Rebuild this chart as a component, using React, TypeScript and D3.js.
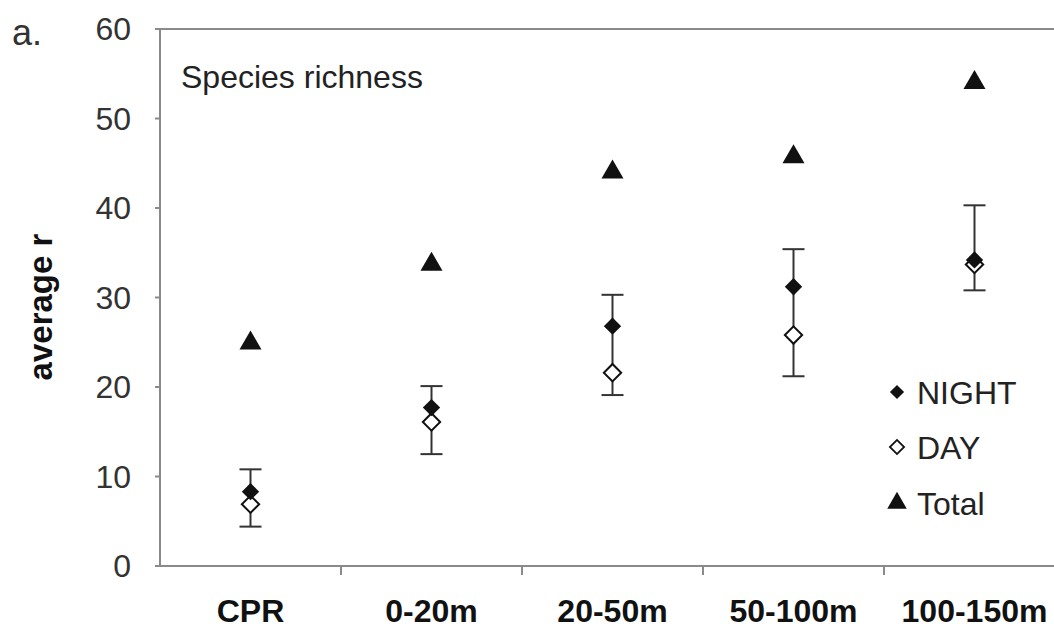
import React from "react";
import * as d3 from "d3";

const categories = ["CPR", "0-20m", "20-50m", "50-100m", "100-150m"];
const nightValues = [8.3, 17.7, 26.8, 31.2, 34.2];
const dayValues = [6.9, 16.1, 21.6, 25.8, 33.7];
const totalValues = [24.9, 33.7, 44.0, 45.7, 54.0];
const errLow = [4.4, 12.5, 19.1, 21.2, 30.8];
const errHigh = [10.8, 20.1, 30.3, 35.4, 40.3];
const yTicks = [0, 10, 20, 30, 40, 50, 60];

const W = 1054;
const H = 632;
const left = 160;
const top = 29;
const bottom = 566;
const right = 1065;
const font = "'Liberation Sans', Arial, sans-serif";

export default function App() {
  const x = d3.scaleBand<string>().domain(categories).range([left, right]);
  const y = d3.scaleLinear().domain([0, 60]).range([bottom, top]);
  const cx = (c: string) => (x(c) as number) + x.bandwidth() / 2;

  const diamond = d3.symbol().type(d3.symbolSquare).size(150)();
  const diamondLeg = d3.symbol().type(d3.symbolSquare).size(100)();
  const tri = d3.symbol().type(d3.symbolTriangle).size(210)();
  const triLeg = d3.symbol().type(d3.symbolTriangle).size(165)();
  const axisColor = "#8a8a8a";

  return (
    <svg width={W} height={H} style={{ position: "absolute", left: 0, top: 0, background: "#fff" }}>
      <rect x={0} y={0} width={W} height={H} fill="#fff" />
      {/* frame lines */}
      <line x1={left} x2={W} y1={top} y2={top} stroke={axisColor} strokeWidth={2} />
      <line x1={left} x2={left} y1={top} y2={bottom} stroke={axisColor} strokeWidth={2} />
      <line x1={left} x2={W} y1={bottom} y2={bottom} stroke={axisColor} strokeWidth={2} />
      {/* y ticks */}
      {yTicks.map((t) => (
        <g key={t}>
          <line x1={left - 5} x2={left} y1={y(t)} y2={y(t)} stroke={axisColor} strokeWidth={2} />
          <text x={131} y={y(t) + 11} textAnchor="end" fontFamily={font} fontSize={32} fill="#333">
            {t}
          </text>
        </g>
      ))}
      {/* x ticks between categories */}
      {categories.slice(1).map((c) => (
        <line key={c} x1={x(c) as number} x2={x(c) as number} y1={bottom} y2={bottom + 9} stroke={axisColor} strokeWidth={2} />
      ))}
      {categories.map((c) => (
        <text key={c} x={cx(c)} y={622} textAnchor="middle" fontFamily={font} fontWeight="bold" fontSize={32} fill="#111">
          {c}
        </text>
      ))}
      <text transform={`translate(52,307) rotate(-90)`} textAnchor="middle" fontFamily={font} fontWeight="bold" fontSize={33} fill="#111">
        average r
      </text>
      <text x={12} y={45} fontFamily={font} fontSize={36} fill="#333">a.</text>
      <text x={181} y={88} fontFamily={font} fontSize={32} fill="#222">Species richness</text>

      {/* error bars */}
      {categories.map((c, i) => (
        <g key={"e" + c} stroke="#333" strokeWidth={2}>
          <line x1={cx(c)} x2={cx(c)} y1={y(errLow[i])} y2={y(errHigh[i])} />
          <line x1={cx(c) - 11} x2={cx(c) + 11} y1={y(errLow[i])} y2={y(errLow[i])} />
          <line x1={cx(c) - 11} x2={cx(c) + 11} y1={y(errHigh[i])} y2={y(errHigh[i])} />
        </g>
      ))}
      {/* day (open diamond) */}
      {categories.map((c, i) => (
        <path key={"d" + c} d={diamond as string} transform={`translate(${cx(c)},${y(dayValues[i])}) rotate(45)`} fill="#fff" stroke="#111" strokeWidth={2} />
      ))}
      {/* night (filled diamond) */}
      {categories.map((c, i) => (
        <path key={"n" + c} d={diamond as string} transform={`translate(${cx(c)},${y(nightValues[i])}) rotate(45)`} fill="#111" />
      ))}
      {/* total */}
      {categories.map((c, i) => (
        <path key={"t" + c} d={tri as string} transform={`translate(${cx(c)},${y(totalValues[i])})`} fill="#111" />
      ))}

      {/* legend */}
      <g fontFamily={font} fontSize={32} fill="#222">
        <path d={diamondLeg as string} transform="translate(897,392) rotate(45)" fill="#111" />
        <text x={917} y={404}>NIGHT</text>
        <path d={diamondLeg as string} transform="translate(897,447) rotate(45)" fill="#fff" stroke="#111" strokeWidth={1.8} />
        <text x={917} y={459}>DAY</text>
        <path d={triLeg as string} transform="translate(897,503)" fill="#111" />
        <text x={917} y={515}>Total</text>
      </g>
    </svg>
  );
}
